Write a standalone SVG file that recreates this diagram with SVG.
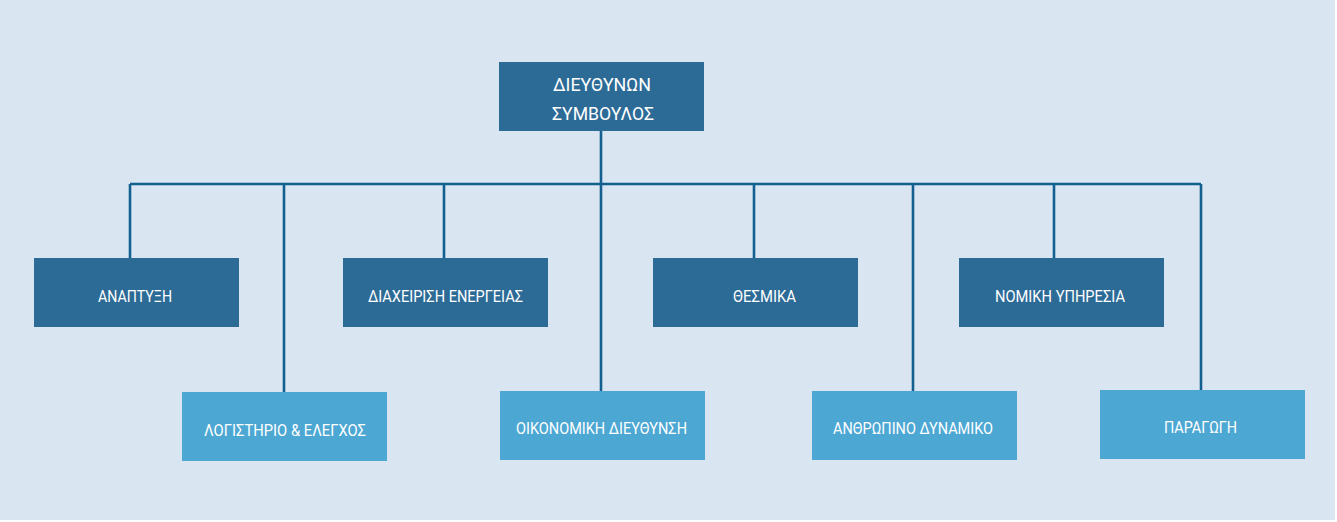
<svg xmlns="http://www.w3.org/2000/svg" width="1337" height="522" viewBox="0 0 1337 522">
<style>
.dark{fill:#2d6b97}
.light{fill:#4ca7d3}
.lbl{font-family:Roboto,"Liberation Sans",sans-serif;font-size:17px;fill:#ffffff;text-anchor:middle}
.ceo{font-size:18.5px}
.conn{stroke:#12608f;stroke-width:2.6;fill:none}
</style>
<rect x="0" y="0" width="1337" height="522" fill="#ffffff"/>
<rect x="0" y="0" width="1335" height="520" fill="#d9e6f1"/>
<g id="connectors">
<path class="conn" d="M601 130V184M130 184H1201M130 184V258M284 184V392M444 184V258M601 184V391M754 184V258M913 184V391M1054 184V258M1201 184V390"/>
</g>
<g id="ceo">
<rect class="dark" x="499" y="62" width="205" height="69"/>
<text class="lbl ceo" x="602" y="91" textLength="98" lengthAdjust="spacingAndGlyphs">ΔΙΕΥΘΥΝΩΝ</text>
<text class="lbl ceo" x="603" y="120" textLength="102" lengthAdjust="spacingAndGlyphs">ΣΥΜΒΟΥΛΟΣ</text>
</g>
<g id="anaptyxi">
<rect class="dark" x="34" y="258" width="205" height="69"/>
<text class="lbl" x="135" y="302" textLength="74" lengthAdjust="spacingAndGlyphs">ΑΝΑΠΤΥΞΗ</text>
</g>
<g id="diaxeirisi">
<rect class="dark" x="343" y="258" width="205" height="69"/>
<text class="lbl" x="445.5" y="302" textLength="155" lengthAdjust="spacingAndGlyphs">ΔΙΑΧΕΙΡΙΣΗ ΕΝΕΡΓΕΙΑΣ</text>
</g>
<g id="thesmika">
<rect class="dark" x="653" y="258" width="205" height="69"/>
<text class="lbl" x="764.5" y="302" textLength="63" lengthAdjust="spacingAndGlyphs">ΘΕΣΜΙΚΑ</text>
</g>
<g id="nomiki">
<rect class="dark" x="959" y="258" width="205" height="69"/>
<text class="lbl" x="1060" y="302" textLength="130" lengthAdjust="spacingAndGlyphs">ΝΟΜΙΚΗ ΥΠΗΡΕΣΙΑ</text>
</g>
<g id="logistirio">
<rect class="light" x="182" y="392" width="205" height="69"/>
<text class="lbl" x="285" y="436" textLength="162" lengthAdjust="spacingAndGlyphs">ΛΟΓΙΣΤΗΡΙΟ &amp; ΕΛΕΓΧΟΣ</text>
</g>
<g id="oikonomiki">
<rect class="light" x="500" y="391" width="205" height="69"/>
<text class="lbl" x="601.5" y="434" textLength="171" lengthAdjust="spacingAndGlyphs">ΟΙΚΟΝΟΜΙΚΗ ΔΙΕΥΘΥΝΣΗ</text>
</g>
<g id="anthropino">
<rect class="light" x="812" y="391" width="205" height="69"/>
<text class="lbl" x="913" y="434" textLength="160" lengthAdjust="spacingAndGlyphs">ΑΝΘΡΩΠΙΝΟ ΔΥΝΑΜΙΚΟ</text>
</g>
<g id="paragogi">
<rect class="light" x="1100" y="390" width="205" height="69"/>
<text class="lbl" x="1200.5" y="433" textLength="73" lengthAdjust="spacingAndGlyphs">ΠΑΡΑΓΩΓΗ</text>
</g>
</svg>
